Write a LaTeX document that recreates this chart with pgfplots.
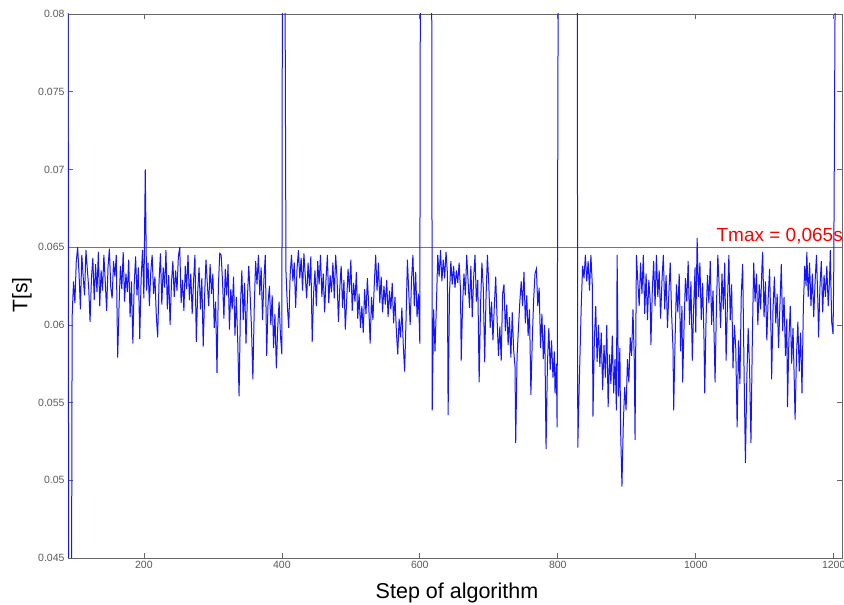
\documentclass[border=0pt]{standalone}
\usepackage{fontspec}
\setmainfont{Liberation Sans}
\usepackage{pgfplots}
\pgfplotsset{compat=1.18}
\definecolor{limred}{RGB}{255,60,60}
\definecolor{lineblue}{RGB}{20,20,255}
\begin{document}
\begin{tikzpicture}
% values are in seconds; the axis works in ms to keep TeX arithmetic sane
\begin{axis}[
  name=ax,
  scale only axis,
  width=774pt, height=544pt,
  y filter/.expression={1000*y},
  xmin=90, xmax=1212, ymin=45, ymax=80,
  xtick={200,400,600,800,1000,1200},
  xticklabels={200,400,600,800,1000,1200},
  ytick={45,50,55,60,65,70,75,80},
  yticklabels={0.045,0.05,0.055,0.06,0.065,0.07,0.075,0.08},
  tick align=inside,
  major tick length=5pt,
  tick style={black!60, line width=0.7pt},
  axis line style={black!60, line width=0.9pt},
  tick label style={font=\fontsize{10.5}{12}\selectfont, text=black!65},
  xlabel={Step of algorithm},
  ylabel={T[s]},
  xlabel style={font=\fontsize{21.5}{24}\selectfont, at={(axis description cs:0.5026,-0.0643)}, anchor=center},
  ylabel style={font=\fontsize{21}{24}\selectfont, at={(axis description cs:-0.0594,0.4835)}, anchor=center},
]
% limit line (Tmax), drawn as a thin filled strip
\addplot[fill=limred, draw=none, mark=none] coordinates {(90,0.06496) (1212,0.06496) (1212,0.06504) (90,0.06504)} -- cycle;
% measured step times
\addplot[color=lineblue, line width=1pt, mark=none] coordinates {
(90,0.09) (91,0.04) (95,0.04) (96,0.0605) (98,0.0628) (100,0.0614) (102,0.0641) (104,0.0650) (106,0.0633) (108,0.0610)
(110,0.0645) (112,0.0631) (114,0.0619) (116,0.0648) (118,0.0636) (120,0.0624) (122,0.0602) (124,0.0630) (126,0.0643) (128,0.0616)
(130,0.0639) (132,0.0621) (134,0.0647) (136,0.0612) (138,0.0635) (140,0.0622) (142,0.0645) (144,0.0628) (146,0.0609) (148,0.0637)
(150,0.0649) (152,0.0624) (154,0.0617) (156,0.0641) (158,0.0631) (160,0.0645) (162,0.0579) (164,0.0612) (166,0.0638) (168,0.0623)
(170,0.0647) (172,0.0615) (174,0.0633) (176,0.0621) (178,0.0642) (180,0.0605) (182,0.0628) (184,0.0588) (186,0.0626) (188,0.0644)
(190,0.0619) (192,0.0637) (194,0.0591) (196,0.0629) (198,0.0648) (200,0.0617) (202,0.0700) (204,0.0622) (206,0.0640) (208,0.0612)
(210,0.0634) (212,0.0645) (214,0.0620) (216,0.0631) (218,0.0606) (220,0.0592) (222,0.0628) (224,0.0646) (226,0.0613) (228,0.0637)
(230,0.0624) (232,0.0648) (234,0.0610) (236,0.0632) (238,0.0600) (240,0.0627) (242,0.0641) (244,0.0618) (246,0.0635) (248,0.0622)
(250,0.0644) (252,0.0650) (254,0.0614) (256,0.0629) (258,0.0609) (260,0.0638) (262,0.0623) (264,0.0645) (266,0.0616) (268,0.0633)
(270,0.0607) (272,0.0628) (274,0.0645) (276,0.0589) (278,0.0621) (280,0.0637) (282,0.0610) (284,0.0630) (286,0.0586) (288,0.0618)
(290,0.0642) (292,0.0626) (294,0.0612) (296,0.0639) (298,0.0620) (300,0.0633) (302,0.0598) (304,0.0615) (306,0.0569) (308,0.0625)
(310,0.0646) (312,0.0645) (314,0.0628) (316,0.0604) (318,0.0636) (320,0.0619) (322,0.0639) (324,0.0597) (326,0.0623) (328,0.0610)
(330,0.0631) (332,0.0593) (334,0.0618) (336,0.0590) (338,0.0554) (340,0.0612) (342,0.0635) (344,0.0603) (346,0.0627) (348,0.0588)
(350,0.0616) (352,0.0638) (354,0.0620) (356,0.0598) (358,0.0565) (360,0.0611) (362,0.0641) (364,0.0626) (366,0.0645) (368,0.0619)
(370,0.0637) (372,0.0603) (374,0.0629) (376,0.0645) (378,0.0580) (380,0.0614) (382,0.0625) (384,0.0600) (386,0.0619) (388,0.0585)
(390,0.0607) (392,0.0572) (394,0.0598) (396,0.0615) (398,0.0593) (400,0.0581) (401,0.09) (404,0.09) (406,0.0634) (408,0.0612)
(410,0.0598) (412,0.0632) (414,0.0645) (416,0.0628) (418,0.0640) (420,0.0611) (422,0.0636) (424,0.0648) (426,0.0630) (428,0.0643)
(430,0.0622) (432,0.0646) (434,0.0631) (436,0.0617) (438,0.0640) (440,0.0625) (442,0.0644) (444,0.0589) (446,0.0620) (448,0.0635)
(450,0.0612) (452,0.0641) (454,0.0626) (456,0.0645) (458,0.0618) (460,0.0633) (462,0.0608) (464,0.0629) (466,0.0645) (468,0.0614)
(470,0.0632) (472,0.0621) (474,0.0640) (476,0.0617) (478,0.0645) (480,0.0630) (482,0.0602) (484,0.0624) (486,0.0638) (488,0.0611)
(490,0.0629) (492,0.0597) (494,0.0616) (496,0.0636) (498,0.0621) (500,0.0642) (502,0.0609) (504,0.0627) (506,0.0615) (508,0.0634)
(510,0.0604) (512,0.0620) (514,0.0598) (516,0.0612) (518,0.0595) (520,0.0623) (522,0.0607) (524,0.0630) (526,0.0612) (528,0.0588)
(530,0.0618) (532,0.0603) (534,0.0626) (536,0.0645) (538,0.0622) (540,0.0640) (542,0.0614) (544,0.0631) (546,0.0608) (548,0.0625)
(550,0.0613) (552,0.0629) (554,0.0605) (556,0.0622) (558,0.0610) (560,0.0627) (562,0.0601) (564,0.0618) (566,0.0596) (568,0.0581)
(570,0.0604) (572,0.0592) (574,0.0611) (576,0.0587) (578,0.0570) (580,0.0603) (582,0.0642) (584,0.0621) (586,0.0600) (588,0.0629)
(590,0.0645) (592,0.0612) (594,0.0634) (596,0.0605) (598,0.0620) (600,0.0588) (601,0.09) (617,0.09) (618,0.0545) (620,0.0610)
(622,0.0583) (624,0.0612) (626,0.0645) (628,0.0631) (630,0.0648) (632,0.0628) (634,0.0642) (636,0.0630) (638,0.0647) (640,0.0633)
(641,0.0542) (643,0.0620) (645,0.0641) (647,0.0626) (649,0.0638) (651,0.0624) (653,0.0635) (655,0.0627) (657,0.0640) (659,0.0622)
(660,0.0577) (662,0.0613) (664,0.0633) (666,0.0619) (668,0.0645) (670,0.0628) (672,0.0611) (674,0.0638) (676,0.0605) (678,0.0630)
(680,0.0645) (682,0.0615) (684,0.0629) (686,0.0563) (688,0.0612) (690,0.0640) (692,0.0624) (694,0.0576) (696,0.0618) (698,0.0645)
(700,0.0626) (702,0.0598) (704,0.0615) (706,0.0590) (708,0.0612) (710,0.0631) (712,0.0604) (714,0.0580) (716,0.0599) (718,0.0577)
(720,0.0620) (722,0.0626) (724,0.0596) (726,0.0613) (728,0.0587) (730,0.0605) (732,0.0579) (734,0.0608) (736,0.0584) (738,0.0573)
(739,0.0524) (741,0.0580) (743,0.0598) (745,0.0615) (747,0.0628) (749,0.0612) (751,0.0634) (753,0.0601) (755,0.0619) (757,0.0593)
(759,0.0610) (761,0.0555) (763,0.0590) (765,0.0616) (767,0.0633) (769,0.0636) (771,0.0612) (773,0.0624) (775,0.0585) (777,0.0607)
(779,0.0578) (781,0.0600) (783,0.0520) (785,0.0575) (787,0.0598) (789,0.0571) (791,0.0590) (793,0.0566) (795,0.0583) (796,0.0556)
(798,0.0575) (799,0.0534) (801,0.09) (828,0.09) (829,0.0521) (831,0.0560) (832,0.0577) (834,0.0612) (836,0.0638) (838,0.0630)
(840,0.0645) (842,0.0628) (844,0.0641) (846,0.0622) (848,0.0645) (850,0.0626) (851,0.0541) (853,0.0590) (855,0.0612) (857,0.0576)
(859,0.0600) (861,0.0573) (863,0.0595) (865,0.0558) (867,0.0587) (869,0.0566) (871,0.0600) (873,0.0547) (875,0.0581) (877,0.0562)
(879,0.0593) (881,0.0556) (883,0.0578) (885,0.0545) (886,0.0645) (888,0.0554) (890,0.0585) (891,0.0534) (893,0.0496) (895,0.0537)
(897,0.0560) (899,0.0545) (901,0.0578) (903,0.0563) (905,0.0592) (907,0.0580) (909,0.0610) (911,0.0575) (912,0.0526) (914,0.0645)
(916,0.0628) (918,0.0612) (920,0.0640) (922,0.0620) (924,0.0645) (926,0.0607) (928,0.0633) (930,0.0603) (932,0.0629) (934,0.0615)
(935,0.0587) (937,0.0622) (939,0.0641) (941,0.0612) (943,0.0645) (945,0.0618) (947,0.0635) (949,0.0604) (951,0.0628) (953,0.0645)
(955,0.0610) (957,0.0632) (959,0.0598) (961,0.0620) (963,0.0640) (965,0.0607) (967,0.0585) (968,0.0545) (970,0.0590) (972,0.0626)
(974,0.0608) (976,0.0633) (978,0.0583) (980,0.0612) (981,0.0563) (983,0.0598) (985,0.0630) (987,0.0615) (989,0.0641) (991,0.0600)
(993,0.0628) (995,0.0577) (997,0.0612) (999,0.0637) (1000,0.0595) (1002,0.0656) (1004,0.0618) (1006,0.0640) (1008,0.0603) (1010,0.0627)
(1012,0.0590) (1013,0.0556) (1015,0.0605) (1017,0.0632) (1019,0.0614) (1021,0.0641) (1023,0.0600) (1025,0.0622) (1027,0.0585) (1028,0.0563)
(1030,0.0612) (1032,0.0645) (1034,0.0624) (1036,0.0598) (1038,0.0633) (1040,0.0610) (1042,0.0640) (1044,0.0577) (1046,0.0615) (1048,0.0645)
(1050,0.0603) (1052,0.0626) (1054,0.0572) (1056,0.0600) (1058,0.0585) (1060,0.0534) (1062,0.0590) (1064,0.0562) (1066,0.0620) (1068,0.0639)
(1070,0.0571) (1072,0.0511) (1074,0.0565) (1076,0.0598) (1078,0.0572) (1080,0.0524) (1082,0.0590) (1084,0.0640) (1086,0.0615) (1088,0.0633)
(1090,0.0600) (1092,0.0626) (1094,0.0610) (1096,0.0638) (1097,0.0647) (1099,0.0605) (1101,0.0628) (1103,0.0590) (1105,0.0617) (1107,0.0636)
(1109,0.0598) (1110,0.0565) (1112,0.0610) (1114,0.0631) (1116,0.0601) (1118,0.0620) (1120,0.0585) (1122,0.0612) (1124,0.0639) (1126,0.0596)
(1128,0.0618) (1130,0.0580) (1132,0.0604) (1133,0.0547) (1135,0.0590) (1137,0.0612) (1139,0.0575) (1141,0.0598) (1143,0.0560) (1144,0.0539)
(1146,0.0580) (1148,0.0602) (1150,0.0570) (1152,0.0595) (1154,0.0556) (1156,0.0612) (1158,0.0638) (1160,0.0625) (1161,0.0647) (1163,0.0618)
(1165,0.0640) (1167,0.0612) (1169,0.0633) (1171,0.0605) (1173,0.0628) (1175,0.0645) (1177,0.0615) (1178,0.0592) (1180,0.0624) (1182,0.0641)
(1184,0.0608) (1186,0.0632) (1188,0.0618) (1190,0.0638) (1192,0.0612) (1194,0.0630) (1195,0.0648) (1197,0.0602) (1199,0.0594) (1200,0.0631)
(1203,0.09)
};
\node[anchor=base east, text=red, font=\fontsize{19}{22}\selectfont, inner sep=0pt, xshift=1pt, yshift=6pt]
  at (axis cs:1212,65) {Tmax = 0,065s};
\end{axis}
\pgfresetboundingbox
\path[use as bounding box] ([shift={(-68pt,-47pt)}]ax.south west) rectangle ([shift={(2pt,14pt)}]ax.north east);
\end{tikzpicture}
\end{document}
